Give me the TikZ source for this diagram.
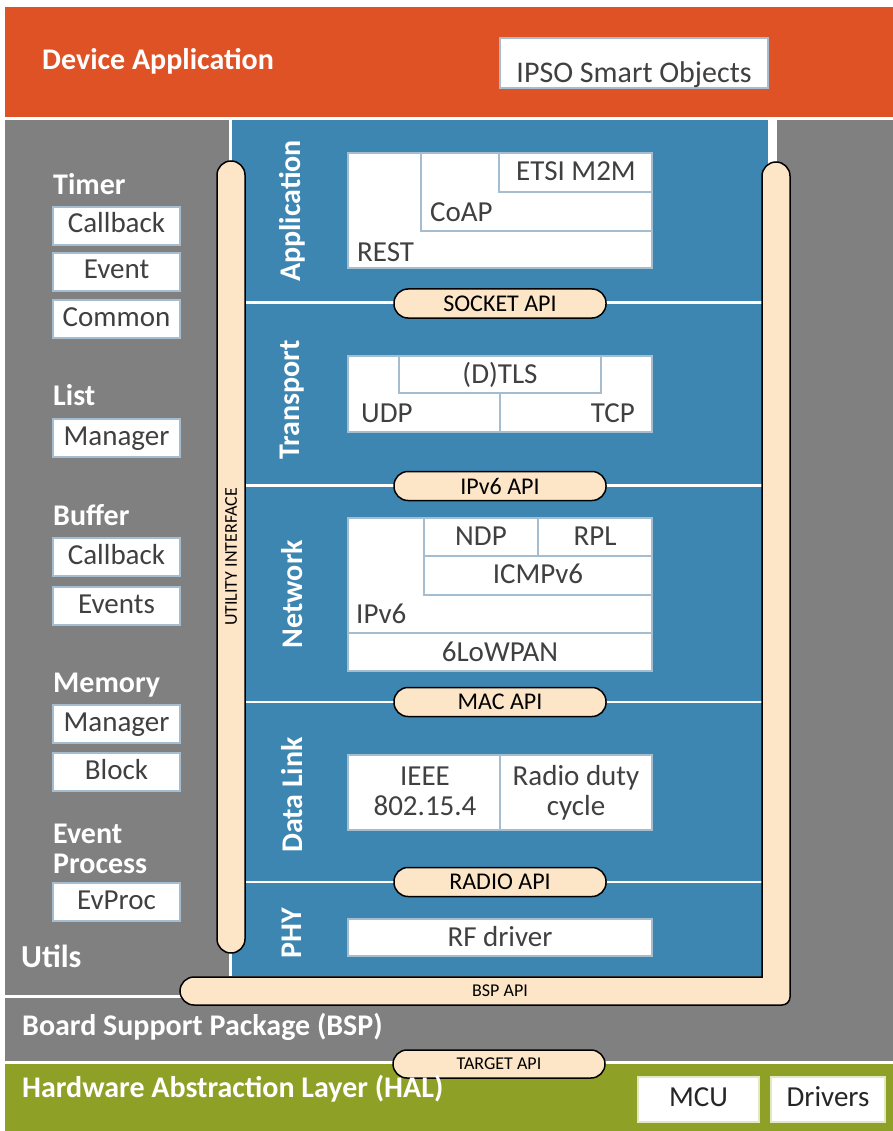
\documentclass[tikz,border=0pt]{standalone}
\usepackage{fontspec}
\setmainfont{Carlito}
\definecolor{cOrange}{HTML}{DF5226}
\definecolor{cGray}{HTML}{808080}
\definecolor{cBlue}{HTML}{3E86B2}
\definecolor{cGreen}{HTML}{8EA126}
\definecolor{cBeige}{HTML}{FDE5C8}
\definecolor{boxb}{HTML}{A6BDD0}
\definecolor{hboxb}{HTML}{E2E8C6}
\definecolor{txtg}{HTML}{404040}
\newcommand\fsz[1]{\fontsize{#1}{#1}\selectfont}
% \rbox[style]{name}{x1}{y1}{x2}{y2}
\newcommand\rbox[6][wbox]{\node[#1, minimum width={#5pt-#3pt}, minimum height={#6pt-#4pt}] (#2) at ({(#3+#5)/2},{(#4+#6)/2}) {};}
\begin{document}
\begin{tikzpicture}[x=1pt,y=-1pt,
  wbox/.style={draw=boxb, fill=white, line width=1.6pt, inner sep=0pt, outer sep=0pt},
  ubox/.style={wbox, minimum width=127pt, minimum height=38pt, text=txtg, font=\fsz{29}, text height=20pt, text depth=6pt},
  hbox/.style={draw=hboxb, fill=white, line width=1.6pt, inner sep=0pt, minimum height=45pt, text=black!85, font=\fsz{29}, text height=20pt, text depth=6pt},
  txt/.style={text=txtg, font=\fsz{29}, inner sep=0pt},
  head/.style={text=white, font=\bfseries\fsz{30}, inner sep=0pt, anchor=base west},
  layer/.style={text=white, font=\bfseries\fsz{30}, inner sep=0pt, rotate=90},
  pill/.style={draw=black, line width=1.5pt, fill=cBeige, rounded corners=14pt, minimum width=212pt, minimum height=29pt, inner sep=0pt, font=\fsz{24}, text=black},
  bar/.style={draw=black, line width=1.5pt, fill=cBeige},
  small/.style={inner sep=0pt, font=\fsz{18}, text=black},
  sep/.style={draw=white, line width=2.5pt}
]
% ---------- backgrounds ----------
\path[use as bounding box] (0,0) rectangle (893,1131);
\fill[white] (0,0) rectangle (893,1131);
\fill[cOrange] (5,7) rectangle (893,117);
\fill[cGray] (5,120) rectangle (893,1061);
\fill[cGreen] (5,1064) rectangle (893,1131);
\draw[white, line width=3pt] (5,996.5) -- (185,996.5);
\fill[cBlue] (232,120) rectangle (768,976);
\fill[white] (229,120) rectangle (232,976);
\fill[white] (768,120) rectangle (777,976);
% layer separators
\draw[sep] (232,302.5) -- (768,302.5);
\draw[sep] (232,485.5) -- (768,485.5);
\draw[sep] (232,702) -- (768,702);
\draw[sep] (232,882) -- (768,882);

% ---------- top band ----------
\node[head] (devapp) at (42,70) {Device Application};
\rbox[wbox]{ipso}{500}{38}{768}{88}
\node[txt, anchor=base, font=\fsz{30}] (ipsot) at (634,83) {IPSO Smart Objects};

% ---------- left utilities ----------
\node[head] (hTimer) at (53,195) {Timer};
\node[ubox] (uCb1) at (116.5,226) {Callback};
\node[ubox] (uEv) at (116.5,272) {Event};
\node[ubox] (uCom) at (116.5,319) {Common};
\node[head] (hList) at (53,405) {List};
\node[ubox] (uMan1) at (116.5,438) {Manager};
\node[head] (hBuf) at (53,525) {Buffer};
\node[ubox] (uCb2) at (116.5,557) {Callback};
\node[ubox] (uEvs) at (116.5,606) {Events};
\node[head] (hMem) at (53,692) {Memory};
\node[ubox] (uMan2) at (116.5,724) {Manager};
\node[ubox] (uBlk) at (116.5,772) {Block};
\node[head] (hEv) at (53,843) {Event};
\node[head] (hProc) at (53,873) {Process};
\node[ubox] (uEvP) at (116.5,902) {EvProc};
\node[head, font=\bfseries\fsz{32}] (hUtils) at (21,967) {Utils};

% ---------- layer labels ----------
\node[layer] (lApp) at (292,211) {Application};
\node[layer] (lTra) at (292,400) {Transport};
\node[layer] (lNet) at (292,594) {Network};
\node[layer] (lDl) at (292,795) {Data Link};
\node[layer] (lPhy) at (292,933) {PHY};

% ---------- application ----------
\rbox{bRest}{348}{153}{652}{268}
\rbox{bCoap}{421}{153}{652}{231}
\rbox{bEtsi}{499}{153}{652}{192}
\node[txt, anchor=base] (tEtsi) at (576,181) {ETSI M2M};
\node[txt, anchor=base west] (tCoap) at (430,222) {CoAP};
\node[txt, anchor=base west] (tRest) at (357,262) {REST};

% ---------- transport ----------
\rbox{bUdp}{348}{356}{500}{432}
\rbox{bTcp}{500}{356}{652}{432}
\rbox{bTls}{399}{356}{601}{393}
\node[txt, anchor=base] (tTls) at (500,383) {(D)TLS};
\node[txt, anchor=base west] (tUdp) at (361,422) {UDP};
\node[txt, anchor=base east] (tTcp) at (635,422) {TCP};

% ---------- network ----------
\rbox{bIp}{348}{518}{652}{633}
\rbox{bIcmp}{424}{518}{652}{595}
\rbox{bNdp}{424}{518}{538}{556}
\rbox{bRpl}{538}{518}{652}{556}
\rbox{bLow}{348}{633}{652}{671}
\node[txt, anchor=base] (tNdp) at (481,545) {NDP};
\node[txt, anchor=base] (tRpl) at (595,545) {RPL};
\node[txt, anchor=base] (tIcmp) at (538,583) {ICMPv6};
\node[txt, anchor=base west] (tIp) at (356,623) {IPv6};
\node[txt, anchor=base] (tLow) at (500,661) {6LoWPAN};

% ---------- data link ----------
\rbox{bIeee}{348}{755}{500}{830}
\rbox{bRdc}{500}{755}{652}{830}
\node[txt, anchor=base] (tIeeeA) at (425,785) {IEEE};
\node[txt, anchor=base] (tIeeeB) at (425,815) {802.15.4};
\node[txt, anchor=base] (tRdcA) at (576,785) {Radio duty};
\node[txt, anchor=base] (tRdcB) at (576,815) {cycle};

% ---------- phy ----------
\rbox{bRf}{348}{919}{652}{956}
\node[txt, anchor=base] (tRf) at (500,946) {RF driver};

% ---------- API pills ----------
\node[pill] (pSock) at (500,303.5) {SOCKET API};
\node[pill] (pIp) at (500,486) {IPv6 API};
\node[pill] (pMac) at (500,702) {MAC API};
\node[pill] (pRad) at (500,882) {RADIO API};

% ---------- utility interface bar ----------
\node[bar, rounded corners=14pt, minimum width=28pt, minimum height=792pt, inner sep=0pt] (uBar) at (231,557) {};
\node[small, rotate=90] (uBarT) at (231,557) {UTILITY INTERFACE};

% ---------- BSP API bar ----------
\draw[bar] (762,977) [rounded corners=14pt] -- (762,162) -- (790,162) [rounded corners=8pt] -- (790,1005) [rounded corners=14pt] -- (180,1005) -- (180,977) [sharp corners] -- cycle;
\node[small] (bspT) at (500,991) {BSP API};

% ---------- bottom bands ----------
\node[head] (hBsp) at (22,1035) {Board Support Package (BSP)};
\node[pill, minimum height=28pt, font=\fsz{18}] (pTarget) at (499,1064) {TARGET API};
\node[head] (hHal) at (22,1097) {Hardware Abstraction Layer (HAL)};
\node[hbox, minimum width=121pt] (hMcu) at (698.5,1099.5) {MCU};
\node[hbox, minimum width=114pt] (hDrv) at (828,1099.5) {Drivers};
\end{tikzpicture}
\end{document}
